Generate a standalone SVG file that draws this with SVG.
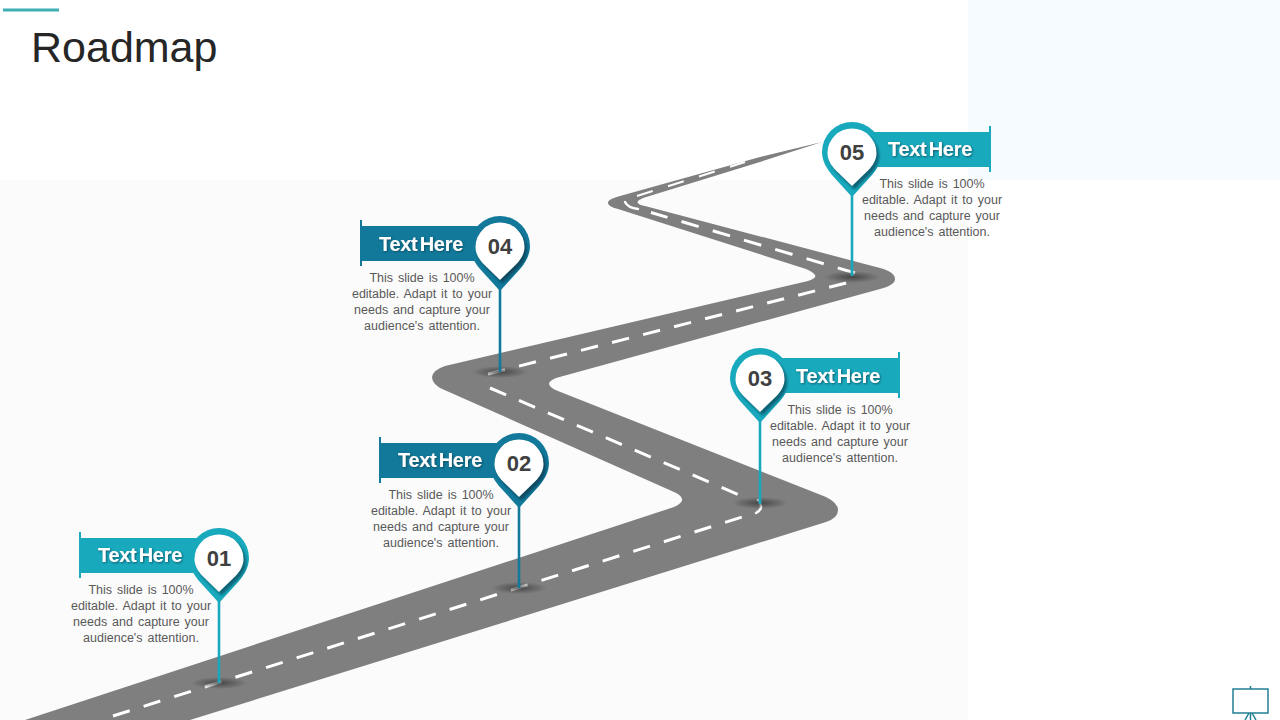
<svg xmlns="http://www.w3.org/2000/svg" xmlns:xlink="http://www.w3.org/1999/xlink" width="1280" height="720" viewBox="0 0 1280 720">
<style>
text{font-family:"Liberation Sans",Arial,sans-serif;text-anchor:middle}
.title{font-size:43px;fill:#262626;text-anchor:start}
.head{font-size:20px;font-weight:bold;fill:#fff;word-spacing:-3px;letter-spacing:-.3px;filter:url(#ts)}
.num{font-size:22px;font-weight:bold;fill:#404040}
.desc{font-size:12.500px;fill:#595959;word-spacing:1.500px}
.dash{fill:none;stroke:#fff;stroke-width:3}
.thin{stroke-width:2}
.solid{fill:none;stroke:#fff;stroke-width:2.500;stroke-linecap:round}
.t{fill:#19a9bd}.d{fill:#12799b}
.st{stroke:#19a9bd}.sd{stroke:#12799b}
.stem{stroke-width:2.600;fill:none}
</style>
<defs>
<filter id="ts" x="-10%" y="-20%" width="120%" height="150%"><feDropShadow dx="1" dy="1" stdDeviation=".8" flood-color="#0b4050" flood-opacity=".75"/></filter>
<filter id="bl" x="-20%" y="-20%" width="140%" height="140%"><feGaussianBlur stdDeviation="1.500"/></filter>
<radialGradient id="spot"><stop offset="0" stop-color="#333" stop-opacity=".75"/><stop offset="1" stop-color="#333" stop-opacity="0"/></radialGradient>
<path id="outer" d="M0,45L-20,23C-26,16-30,8-30,0A30,30 0 1 1 30,0C30,8 26,16 20,23Z"/>
<path id="inner" d="M0,34L-16,18.500C-21.500,13-24.500,7-24.500,1A24.500,24.500 0 1 1 24.500,1C24.500,7 21.500,13 16,18.500Z"/>
<clipPath id="oc"><use xlink:href="#outer"/></clipPath>
</defs>
<rect width="1280" height="720" fill="#fff"/>
<rect x="0" y="180" width="968" height="540" fill="#fbfbfb"/>
<rect x="968" y="0" width="312" height="180" fill="#f5fbfe"/>
<rect x="3" y="8.500" width="56" height="3" fill="#3cb0b5"/>
<text class="title" x="31" y="62">Roadmap</text>
<g id="road">
<path fill="#7f7f7f" d="M25,720L674,507Q683,503 682,499Q681,495 674,492L440,388Q432,383 432,377Q433,370 445,366L808,281Q817,278 815,275Q813,272 806,269L618,209Q607,206 608,202Q609,199 620,196L760,157L822,142L760,162L643,198Q636,201 638,203Q639,205 645,206L880,268Q895,272 895,279Q895,285 880,289L556,378Q549,381 549,384Q550,388 558,391L826,497Q838,503 838,510Q838,518 826,522L190,720Z"/>
<path class="dash" stroke-dasharray="17.500 14.600" d="M113,716L742,517"/>
<path class="solid" d="M756,513Q765,508 758,500"/>
<path class="dash" stroke-dasharray="17.500 14" d="M490,388L744,497"/>
<path class="dash" stroke-dasharray="17.500 14.500" d="M488,374L850,282"/>
<path class="dash" stroke-dasharray="18 14.600" d="M855,273L651,212.500"/>
<path class="solid" d="M638,209Q628,208 625,202"/>
<path class="dash thin" stroke-dasharray="16.500 16" d="M637,196L745,162"/>
<ellipse cx="219" cy="683" rx="28" ry="6" fill="url(#spot)"/>
<ellipse cx="519" cy="588" rx="28" ry="6" fill="url(#spot)"/>
<ellipse cx="760" cy="503" rx="28" ry="6" fill="url(#spot)"/>
<ellipse cx="500" cy="372" rx="28" ry="6" fill="url(#spot)"/>
<ellipse cx="852" cy="277" rx="28" ry="6" fill="url(#spot)"/>
</g>
<g id="connectors">
<path class="stem st" d="M219,600V683"/>
<path class="stem sd" d="M519,505V588"/>
<path class="stem st" d="M760,420V504"/>
<path class="stem sd" d="M500,288V372"/>
<path class="stem st" d="M852,194V276"/>
</g>
<g id="node-01">
<rect class="t" x="80" y="538" width="125" height="35"/><rect class="t" x="79" y="532" width="2" height="46"/>
<g transform="translate(219,558)"><use xlink:href="#outer" class="t"/><g clip-path="url(#oc)"><use xlink:href="#inner" transform="translate(2.500,3.500)" fill="#0d6173" filter="url(#bl)"/></g><use xlink:href="#inner" fill="#fff"/></g>
<text class="head" x="140" y="562">Text Here</text><text class="num" x="219" y="566">01</text>
<text class="desc" x="141" y="594">This slide is 100%</text><text class="desc" x="141" y="610">editable. Adapt it to your</text><text class="desc" x="141" y="626">needs and capture your</text><text class="desc" x="141" y="642">audience's attention.</text>
</g>
<g id="node-02">
<rect class="d" x="380" y="443" width="125" height="35"/><rect class="d" x="379" y="437" width="2" height="46"/>
<g transform="translate(519,463)"><use xlink:href="#outer" class="d"/><g clip-path="url(#oc)"><use xlink:href="#inner" transform="translate(2.500,3.500)" fill="#0a4a60" filter="url(#bl)"/></g><use xlink:href="#inner" fill="#fff"/></g>
<text class="head" x="440" y="467">Text Here</text><text class="num" x="519" y="471">02</text>
<text class="desc" x="441" y="499">This slide is 100%</text><text class="desc" x="441" y="515">editable. Adapt it to your</text><text class="desc" x="441" y="531">needs and capture your</text><text class="desc" x="441" y="547">audience's attention.</text>
</g>
<g id="node-03">
<rect class="t" x="775" y="358" width="124" height="35"/><rect class="t" x="898" y="352" width="2" height="46"/>
<g transform="translate(760,378)"><use xlink:href="#outer" class="t"/><g clip-path="url(#oc)"><use xlink:href="#inner" transform="translate(2.500,3.500)" fill="#0d6173" filter="url(#bl)"/></g><use xlink:href="#inner" fill="#fff"/></g>
<text class="head" x="838" y="383">Text Here</text><text class="num" x="760" y="386">03</text>
<text class="desc" x="840" y="414">This slide is 100%</text><text class="desc" x="840" y="430">editable. Adapt it to your</text><text class="desc" x="840" y="446">needs and capture your</text><text class="desc" x="840" y="462">audience's attention.</text>
</g>
<g id="node-04">
<rect class="d" x="361" y="226" width="125" height="35"/><rect class="d" x="360" y="220" width="2" height="46"/>
<g transform="translate(500,246)"><use xlink:href="#outer" class="d"/><g clip-path="url(#oc)"><use xlink:href="#inner" transform="translate(2.500,3.500)" fill="#0a4a60" filter="url(#bl)"/></g><use xlink:href="#inner" fill="#fff"/></g>
<text class="head" x="421" y="251">Text Here</text><text class="num" x="500" y="254">04</text>
<text class="desc" x="422" y="282">This slide is 100%</text><text class="desc" x="422" y="298">editable. Adapt it to your</text><text class="desc" x="422" y="314">needs and capture your</text><text class="desc" x="422" y="330">audience's attention.</text>
</g>
<g id="node-05">
<rect class="t" x="866" y="132" width="124" height="35"/><rect class="t" x="989" y="126" width="2" height="46"/>
<g transform="translate(852,152)"><use xlink:href="#outer" class="t"/><g clip-path="url(#oc)"><use xlink:href="#inner" transform="translate(2.500,3.500)" fill="#0d6173" filter="url(#bl)"/></g><use xlink:href="#inner" fill="#fff"/></g>
<text class="head" x="930" y="156">Text Here</text><text class="num" x="852" y="160">05</text>
<text class="desc" x="932" y="188">This slide is 100%</text><text class="desc" x="932" y="204">editable. Adapt it to your</text><text class="desc" x="932" y="220">needs and capture your</text><text class="desc" x="932" y="236">audience's attention.</text>
</g>
<g id="icon" fill="none" stroke="#217f95" stroke-width="1.500">
<rect x="1233" y="689" width="35" height="24" fill="#fff"/>
<path d="M1250.500,686V689M1249,713L1245,720M1252,713L1256,720M1250.500,713V720"/>
</g>
</svg>
